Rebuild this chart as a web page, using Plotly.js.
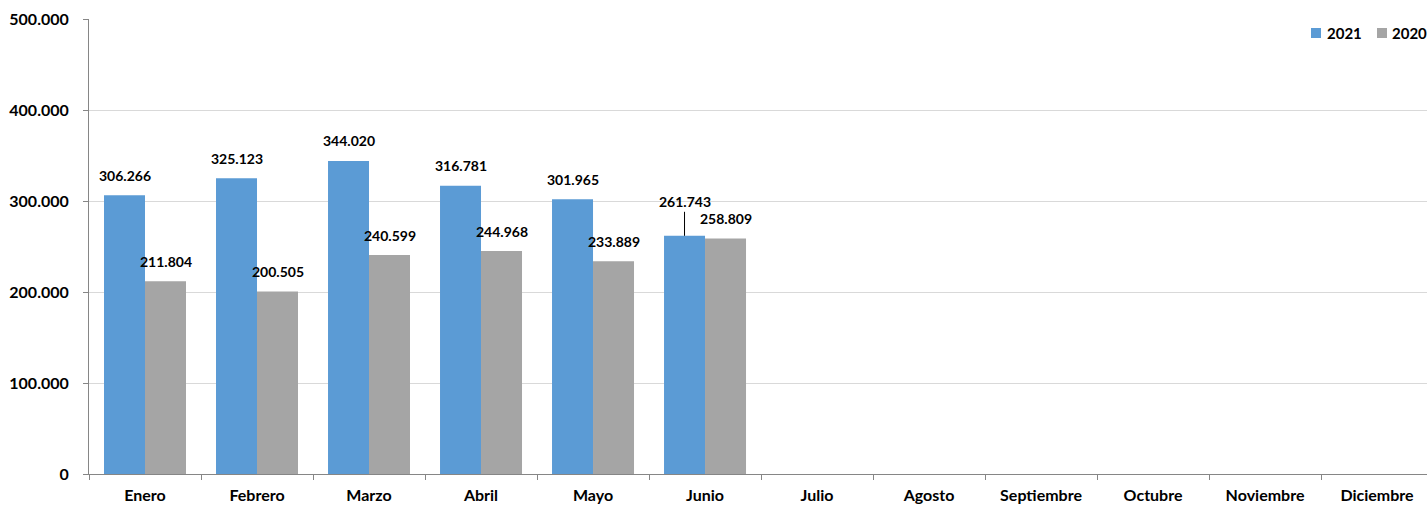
<!DOCTYPE html>
<html>
<head>
<meta charset="utf-8">
<script src="https://cdn.plot.ly/plotly-3.0.1.min.js"></script>
<style>html,body{margin:0;padding:0;background:#fff;}#chart{width:1427px;height:506px;}</style>
</head>
<body>
<div id="chart"></div>
<script>
const months = ["Enero","Febrero","Marzo","Abril","Mayo","Junio","Julio","Agosto","Septiembre","Octubre","Noviembre","Diciembre"];
const values2021 = [306266, 325123, 344020, 316781, 301965, 261743, null, null, null, null, null, null];
const values2020 = [211804, 200505, 240599, 244968, 233889, 258809, null, null, null, null, null, null];
const seriesNames = ["2021", "2020"];
const seriesColors = ["#5B9BD5", "#A5A5A5"];
const yTicks = [0, 100000, 200000, 300000, 400000, 500000];

function fmt(v) {
  return String(Math.round(v)).replace(/\B(?=(\d{3})+(?!\d))/g, ".");
}

const W = 1427, H = 506, ML = 89, MR = 0, MT = 19, MB = 32;
const PW = W - ML - MR, PH = H - MT - MB;
const px2x = p => (p - ML) / PW;
const px2y = p => 1 - (p - MT) / PH;

const FONT = "Lato, 'Open Sans', sans-serif";
const traces = [
  {type: "bar", name: seriesNames[0], x: months, y: values2021,
   marker: {color: seriesColors[0]}, hoverinfo: "skip", showlegend: false},
  {type: "bar", name: seriesNames[1], x: months, y: values2020,
   marker: {color: seriesColors[1]}, hoverinfo: "skip", showlegend: false}
];

const annotations = [];
const series = [values2021, values2020];
series.forEach((vals, si) => {
  vals.forEach((v, i) => {
    if (v == null) return;
    const leader = (si === 0 && i === 5);
    const a = {
      x: months[i], y: v, xref: "x", yref: "y",
      text: fmt(v), xshift: si === 0 ? -20.5 : 20.5,
      font: {family: FONT, size: 14, color: "#000", weight: "bold"},
      showarrow: false, yshift: 20
    };
    if (leader) {
      a.showarrow = true; a.arrowhead = 0; a.arrowwidth = 1; a.arrowcolor = "#000";
      a.ax = 0; a.ay = -34; a.yshift = 0; a.standoff = 0;
    }
    annotations.push(a);
  });
});

// legend (drawn manually, compact like the reference)
const legendSquareLeft = [1311, 1377];
const legendTextLeft = [1325, 1390];
const legendMidY = 33;
const shapes = [];
seriesNames.forEach((n, k) => {
  shapes.push({type: "rect", xref: "paper", yref: "paper",
    x0: px2x(legendSquareLeft[k]), x1: px2x(legendSquareLeft[k] + 10),
    y0: px2y(legendMidY - 5), y1: px2y(legendMidY + 5),
    fillcolor: seriesColors[k], line: {width: 0}});
  annotations.push({xref: "paper", yref: "paper", x: px2x(legendTextLeft[k]), y: px2y(legendMidY),
    xanchor: "left", yanchor: "middle", showarrow: false, text: n,
    font: {family: FONT, size: 15, color: "#000", weight: "bold"}});
});

const layout = {
  width: W, height: H,
  margin: {l: ML, r: MR, t: MT, b: MB, autoexpand: false},
  paper_bgcolor: "#fff", plot_bgcolor: "#fff",
  separators: ",.",
  barmode: "group", bargap: 0.268, bargroupgap: 0,
  showlegend: false,
  xaxis: {type: "category", categoryorder: "array", categoryarray: months,
          range: [-0.5, 11.446], fixedrange: true,
          showline: true, linecolor: "#868686", linewidth: 1,
          ticks: "outside", tickson: "boundaries", ticklen: 5, tickcolor: "#868686",
          ticklabelstandoff: 7,
          tickfont: {family: FONT, size: 16, color: "#000", weight: "bold"},
          showgrid: false, zeroline: false},
  yaxis: {range: [0, 500000], tickvals: yTicks, ticktext: yTicks.map(fmt),
          showline: true, linecolor: "#868686", linewidth: 1,
          ticks: "outside", ticklen: 5, tickcolor: "#868686",
          ticklabelstandoff: 11,
          tickfont: {family: FONT, size: 16, color: "#000", weight: "bold"},
          showgrid: true, gridcolor: "#D9D9D9", gridwidth: 1, zeroline: false, fixedrange: true},
  shapes: shapes,
  annotations: annotations
};

Plotly.newPlot("chart", traces, layout, {displayModeBar: false, staticPlot: true});
</script>
</body>
</html>
